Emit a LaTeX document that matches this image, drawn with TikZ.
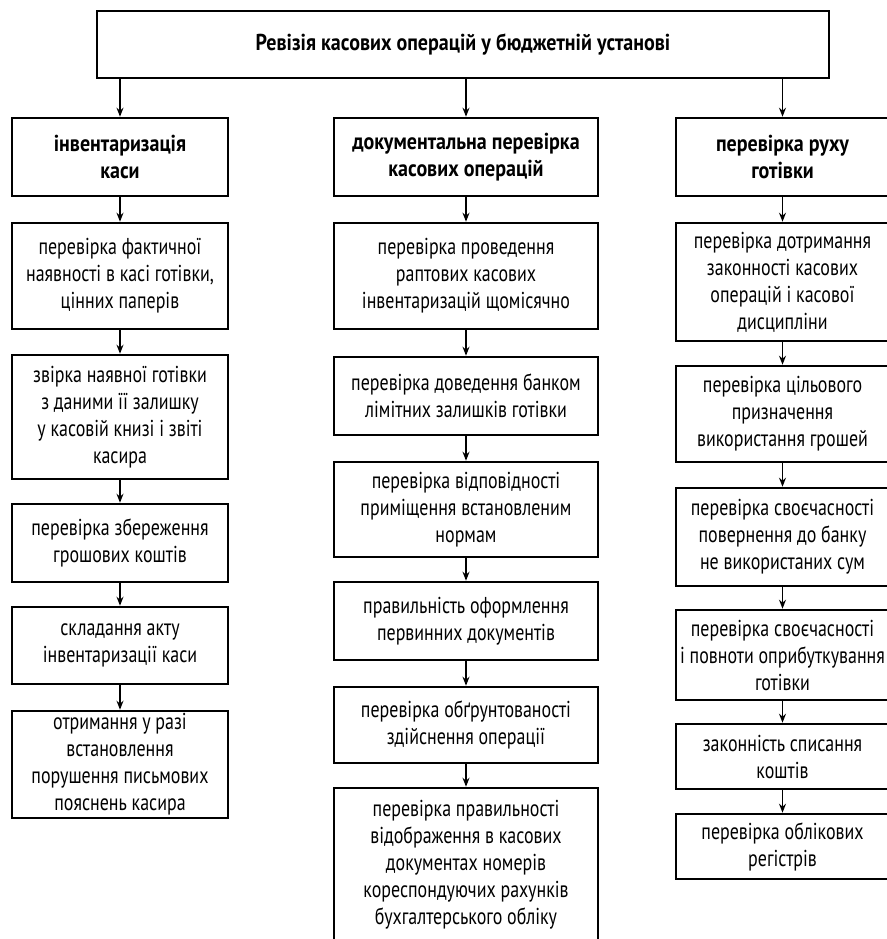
\documentclass[tikz,border=0pt]{standalone}
\usepackage{fontspec}
\setmainfont[FakeStretch=0.78]{PT Sans}
\newfontfamily\hdrfont[FakeStretch=0.87]{PT Sans}
\usetikzlibrary{arrows.meta}
\newcommand\bx[7][box]{%
  \pgfmathsetmacro\bxcx{(#3+#5)/2}%
  \pgfmathsetmacro\bxcy{(#4+#6)/2}%
  \pgfmathsetmacro\bxww{#5-#3}%
  \pgfmathsetmacro\bxhh{#6-#4}%
  \node[#1, minimum width=\bxww pt, minimum height=\bxhh pt] (#2) at (\bxcx,\bxcy) {#7};}
\begin{document}
\begin{tikzpicture}[x=1pt,y=-1pt,
  box/.style={draw, line width=2.6pt, align=center, inner sep=0pt, font=\fontsize{23}{27}\selectfont},
  hdr/.style={box, font=\fontsize{23}{27}\selectfont\hdrfont\bfseries},
  arr/.style={-{Stealth[length=9pt,width=7pt]}, line width=1.3pt}]
\useasboundingbox (0,0) rectangle (886,939);
\bx[hdr]{T}{97}{11}{829}{78}{Ревізія касових операцій у бюджетній установі}
\bx[hdr]{H1}{12}{118}{228}{196}{інвентаризація\\каси}
\bx[hdr]{H2}{334}{118}{598}{196}{документальна перевірка\\касових операцій}
\bx[hdr]{H3}{676}{118}{889}{196}{перевірка руху\\готівки}
\bx{L1}{12}{223}{228}{329}{перевірка фактичної\\наявності в касі готівки,\\цінних паперів}
\bx{L2}{12}{355}{228}{479}{звірка наявної готівки\\з даними її залишку\\у касовій книзі і звіті\\касира}
\bx{L3}{12}{504}{228}{582}{перевірка збереження\\грошових коштів}
\bx{L4}{12}{607}{228}{684}{складання акту\\інвентаризації каси}
\bx{L5}{12}{711}{228}{818}{отримання у разі\\встановлення\\порушення письмових\\пояснень касира}
\bx{M1}{334}{223}{598}{329}{перевірка проведення\\раптових касових\\інвентаризацій щомісячно}
\bx{M2}{334}{357}{598}{435}{перевірка доведення банком\\лімітних залишків готівки}
\bx{M3}{334}{462}{598}{557}{перевірка відповідності\\приміщення встановленим\\нормам}
\bx{M4}{334}{582}{598}{660}{правильність оформлення\\первинних документів}
\bx{M5}{334}{687}{598}{763}{перевірка обґрунтованості\\здійснення операції}
\bx{M6}{334}{788}{598}{942}{перевірка правильності\\відображення в касових\\документах номерів\\кореспондуючих рахунків\\бухгалтерського обліку}
\bx{R1}{676}{223}{889}{341}{перевірка дотримання\\законності касових\\операцій і касової\\дисципліни}
\bx{R2}{676}{366}{889}{462}{перевірка цільового\\призначення\\використання грошей}
\bx{R3}{676}{488}{889}{586}{перевірка своєчасності\\повернення до банку\\не використаних сум}
\bx{R4}{676}{610}{889}{700}{перевірка своєчасності\\і повноти оприбуткування\\готівки}
\bx{R5}{676}{724}{889}{789}{законність списання\\коштів}
\bx{R6}{676}{814}{889}{879}{перевірка облікових\\регістрів}
\foreach \h/\c in {H1/L, H2/M, H3/R}{
  \draw[arr] (T.south -| \h.north) -- (\h.north);
  \draw[arr] (\h.south) -- (\c1.north);
}
\foreach \a/\b in {L1/L2, L2/L3, L3/L4, L4/L5, M1/M2, M2/M3, M3/M4, M4/M5, M5/M6, R1/R2, R2/R3, R3/R4, R4/R5, R5/R6}{
  \draw[arr] (\a.south) -- (\b.north);
}
\end{tikzpicture}
\end{document}
